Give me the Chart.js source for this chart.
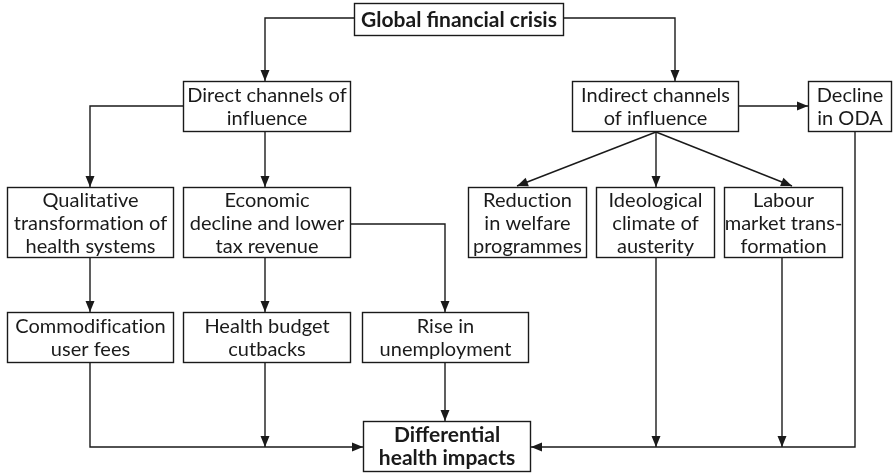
<!DOCTYPE html>
<html>
<head>
<meta charset="utf-8">
<script src="https://cdn.jsdelivr.net/npm/chart.js@4.4.0/dist/chart.umd.min.js"></script>
<style>
  html, body { margin: 0; padding: 0; background: #fff; }
  #wrap { width: 893px; height: 473px; }
</style>
</head>
<body>
<div id="wrap"><canvas id="flow" width="893" height="473"></canvas></div>
<script>
// node boxes: text lines, left/right/top/bottom in diagram units
const nodeText = [
  ['Global financial crisis'],
  ['Direct channels of', 'influence'],
  ['Indirect channels', 'of influence'],
  ['Decline', 'in ODA'],
  ['Qualitative', 'transformation of', 'health systems'],
  ['Economic', 'decline and lower', 'tax revenue'],
  ['Reduction', 'in welfare', 'programmes'],
  ['Ideological', 'climate of', 'austerity'],
  ['Labour', 'market trans-', 'formation'],
  ['Commodification', 'user fees'],
  ['Health budget', 'cutbacks'],
  ['Rise in', 'unemployment'],
  ['Differential', 'health impacts']
];
const nodeBold = [true, false, false, false, false, false, false, false, false, false, false, false, true];
const nodeX0 = [354, 183, 572, 808, 7, 183, 468, 596, 724, 7, 183, 362, 363];
const nodeX1 = [564, 351, 739, 892, 174, 351, 587, 715, 843, 174, 351, 529, 531];
const nodeY0 = [3, 81, 81, 81, 187, 187, 187, 187, 187, 312, 312, 312, 421];
const nodeY1 = [36, 132, 132, 132, 258, 258, 258, 258, 258, 363, 363, 363, 472];

// connectors: waypoints, arrowhead at the last point
const edges = [
  [[354, 18], [265, 18], [265, 81]],
  [[564, 18], [675, 18], [675, 81]],
  [[183, 106], [90, 106], [90, 187]],
  [[265, 132], [265, 187]],
  [[739, 106], [808, 106]],
  [[656, 132], [517, 186]],
  [[656, 132], [656, 187]],
  [[656, 132], [792, 186]],
  [[351, 224], [445, 224], [445, 312]],
  [[90, 258], [90, 312]],
  [[265, 258], [265, 312]],
  [[90, 363], [90, 447], [363, 447]],
  [[265, 363], [265, 447]],
  [[445, 363], [445, 421]],
  [[855, 132], [855, 447], [531, 447]],
  [[656, 258], [656, 447]],
  [[782, 258], [782, 447]]
];

const fontFamily = 'Lato, "Noto Sans", sans-serif';
const ink = '#1a1a1a';

const flowPlugin = {
  id: 'flow',
  afterDatasetsDraw(chart) {
    const c = chart.ctx, xs = chart.scales.x, ys = chart.scales.y;
    const px = v => xs.getPixelForValue(v), py = v => ys.getPixelForValue(v);
    c.save();
    c.strokeStyle = ink;
    c.fillStyle = ink;
    c.lineWidth = 1.4;

    edges.forEach(pts => {
      c.beginPath();
      pts.forEach((p, i) => i ? c.lineTo(px(p[0]), py(p[1])) : c.moveTo(px(p[0]), py(p[1])));
      c.stroke();
      const a = pts[pts.length - 2], b = pts[pts.length - 1];
      const bx = px(b[0]), by = py(b[1]);
      const ang = Math.atan2(by - py(a[1]), bx - px(a[0]));
      const len = 11, half = 4.5;
      c.beginPath();
      c.moveTo(bx, by);
      c.lineTo(bx - len * Math.cos(ang) + half * Math.sin(ang), by - len * Math.sin(ang) - half * Math.cos(ang));
      c.lineTo(bx - len * Math.cos(ang) - half * Math.sin(ang), by - len * Math.sin(ang) + half * Math.cos(ang));
      c.closePath();
      c.fill();
    });

    nodeText.forEach((lines, i) => {
      const x0 = px(nodeX0[i]), x1 = px(nodeX1[i]), y0 = py(nodeY0[i]), y1 = py(nodeY1[i]);
      c.fillStyle = '#fff';
      c.fillRect(x0, y0, x1 - x0, y1 - y0);
      c.strokeRect(x0 + 0.5, y0 + 0.5, x1 - x0 - 1, y1 - y0 - 1);
      c.fillStyle = ink;
      c.font = nodeBold[i] ? 'bold 21px ' + fontFamily : '20px ' + fontFamily;
      // tiny spacing on regular text stops Lato's "ti" ligature
      c.letterSpacing = nodeBold[i] ? '0px' : '0.01px';
      c.textAlign = 'center';
      c.textBaseline = 'alphabetic';
      const lh = 23, cy = (y0 + y1) / 2;
      lines.forEach((t, k) => {
        c.fillText(t, (x0 + x1) / 2, cy + 7 + (k - (lines.length - 1) / 2) * lh);
      });
    });
    c.restore();
  }
};

new Chart(document.getElementById('flow').getContext('2d'), {
  type: 'scatter',
  data: {
    datasets: [{
      data: nodeText.map((t, i) => ({ x: (nodeX0[i] + nodeX1[i]) / 2, y: (nodeY0[i] + nodeY1[i]) / 2 })),
      pointRadius: 0
    }]
  },
  options: {
    responsive: false,
    animation: false,
    events: [],
    layout: { padding: 0 },
    plugins: { legend: { display: false }, tooltip: { enabled: false } },
    scales: {
      x: { type: 'linear', min: 0, max: 893, display: false },
      y: { type: 'linear', min: 0, max: 473, reverse: true, display: false }
    }
  },
  plugins: [flowPlugin]
});
</script>
</body>
</html>
